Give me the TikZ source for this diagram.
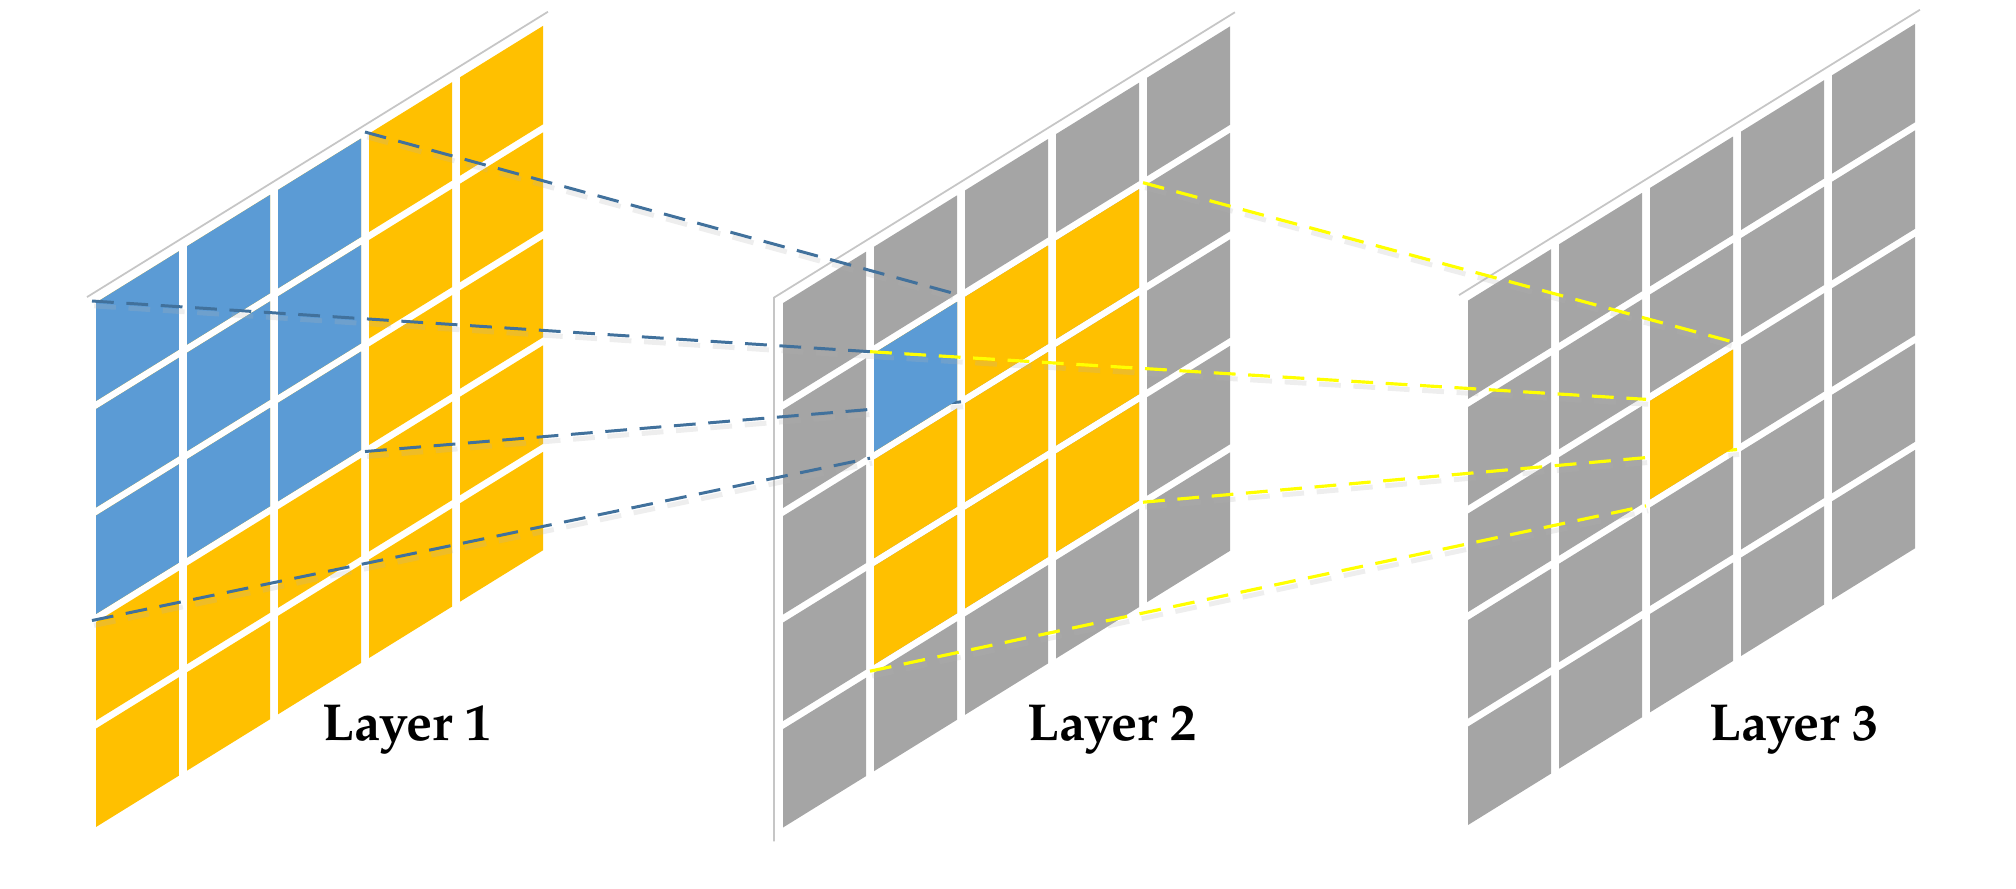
\documentclass[tikz,border=0pt]{standalone}
\usepackage{fontspec}
\IfFontExistsTF{TeX Gyre Pagella}{\setmainfont{TeX Gyre Pagella}}{\setmainfont{Liberation Serif}}
\usepackage{xcolor}
\usepackage{tikz}

\definecolor{cellgray}{HTML}{A5A5A5}
\definecolor{cellblue}{HTML}{5B9BD5}
\definecolor{cellgold}{HTML}{FFC000}
\definecolor{linkblue}{HTML}{41719C}
\definecolor{linkyellow}{HTML}{FFFF00}

% one skewed cell of a layer: column, row, colour
\newcommand{\gridcell}[3]{%
  \fill[#3] (#1+0.044,#2+0.038) -- (#1+0.956,#2+0.038)
    -- (#1+0.956,#2+0.962) -- (#1+0.044,#2+0.962) -- cycle;}

\begin{document}
\begin{tikzpicture}[every node/.style={font=\fontsize{14.8}{18}\selectfont\bfseries},
  sheet/.style={draw=gray!45, line width=0.5pt},
  layer/.style={x={(0.91cm,0.5633cm)}, y={(0cm,-1.065cm)}},
  linkshadow/.style={draw=gray!60, opacity=0.22, line width=1.4pt,
    dash pattern=on 6.2pt off 3.6pt, transform canvas={shift={(0.6pt,-1.4pt)}}},
  bluelink/.style={draw=linkblue, line width=0.85pt, dash pattern=on 6.2pt off 3.6pt},
  yellowlink/.style={draw=linkyellow, line width=0.9pt, dash pattern=on 6.2pt off 3.6pt}]
  \useasboundingbox (0,0) rectangle (20.16,-8.88);

  % Layer 1
  \begin{scope}[shift={(0.92,-3.01)}, layer]
    \draw[sheet] (-0.055,-0.066) -- (5.01,-0.066);
    \foreach \i in {0,...,4} \foreach \j in {0,...,4} {\gridcell{\i}{\j}{cellgold}}
    \foreach \i in {0,1,2} \foreach \j in {0,1,2} {\gridcell{\i}{\j}{cellblue}}
    \coordinate (a00) at (0,0);
    \coordinate (a30) at (3,0);
    \coordinate (a03) at (0,3);
    \coordinate (a33) at (3,3);
  \end{scope}

  % Layer 2
  \begin{scope}[shift={(7.79,-3.015)}, layer]
    \draw[sheet] (-0.055,5.04) -- (-0.055,-0.066) -- (5.01,-0.066);
    \foreach \i in {0,...,4} \foreach \j in {0,...,4} {\gridcell{\i}{\j}{cellgray}}
    \foreach \i in {1,2,3} \foreach \j in {1,2,3} {\gridcell{\i}{\j}{cellgold}}
    \coordinate (b11) at (1,1);
    \coordinate (b21) at (2,1);
    \coordinate (b12) at (1,2);
    \coordinate (b22) at (2,2);
    \coordinate (b41) at (4,1);
    \coordinate (b14) at (1,4);
    \coordinate (b44) at (4,4);
  \end{scope}

  % Layer 3
  \begin{scope}[shift={(14.64,-2.99)}, layer]
    \draw[sheet] (-0.055,-0.066) -- (5.01,-0.066);
    \foreach \i in {0,...,4} \foreach \j in {0,...,4} {\gridcell{\i}{\j}{cellgray}}
    \coordinate (c22) at (2,2);
    \coordinate (c32) at (3,2);
    \coordinate (c23) at (2,3);
    \coordinate (c33) at (3,3);
  \end{scope}

  % receptive field of the blue cell
  \foreach \s/\t in {a30/b21, a00/b11, a33/b22, a03/b12} {
    \draw[linkshadow] (\s) -- (\t);
    \draw[bluelink] (\s) -- (\t);
  }
  \begin{scope}[shift={(7.79,-3.015)}, layer]
    \gridcell{1}{1}{cellblue}
  \end{scope}

  % receptive field of the gold cell
  \foreach \s/\t in {b41/c32, b11/c22, b44/c33, b14/c23} {
    \draw[linkshadow] (\s) -- (\t);
    \draw[yellowlink] (\s) -- (\t);
  }
  \begin{scope}[shift={(14.64,-2.99)}, layer]
    \gridcell{2}{2}{cellgold}
  \end{scope}

  \node[anchor=base] (lab1) at (4.07,-7.40) {Layer 1};
  \node[anchor=base] (lab2) at (11.12,-7.40) {Layer 2};
  \node[anchor=base] (lab3) at (17.94,-7.40) {Layer 3};
\end{tikzpicture}
\end{document}
